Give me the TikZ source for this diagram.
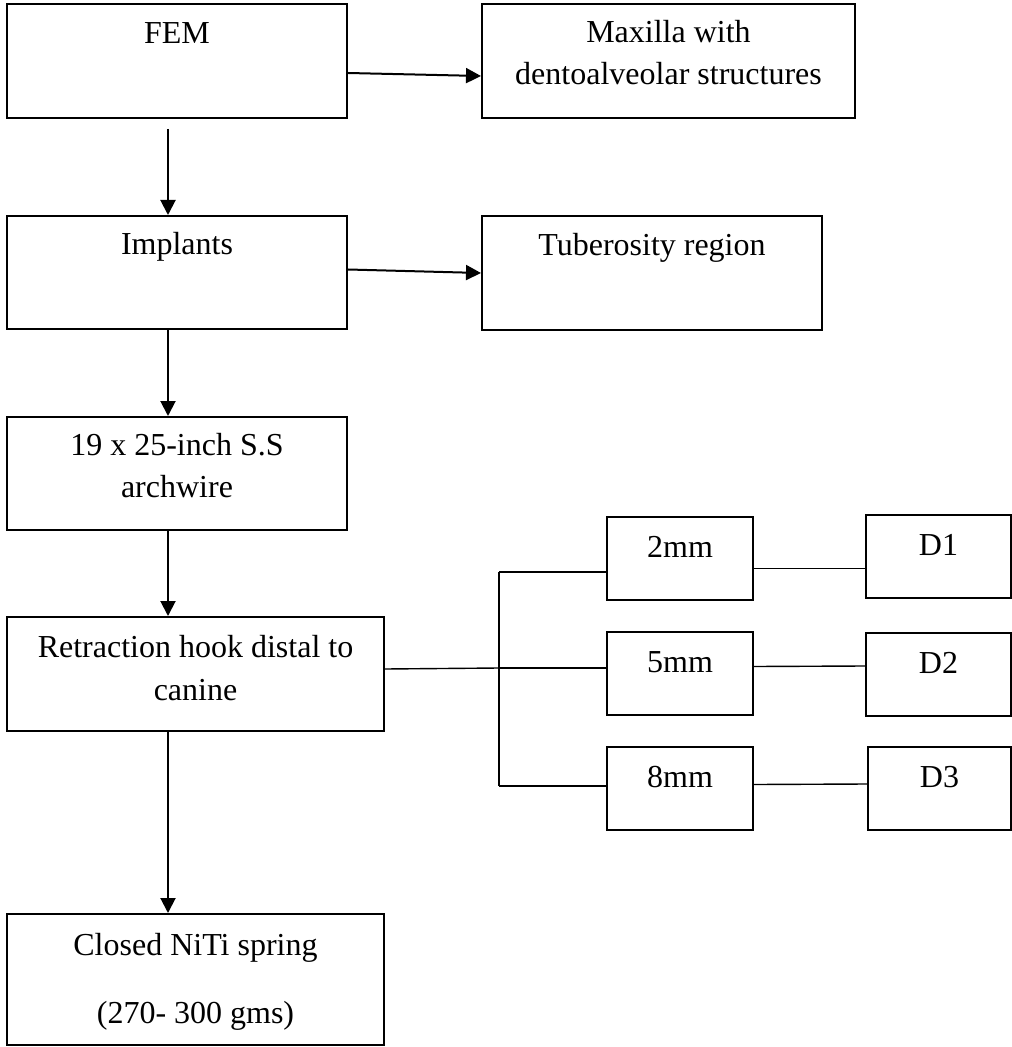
\documentclass[tikz,border=0pt]{standalone}
\usepackage{fontspec}
\setmainfont{Liberation Serif}
\usetikzlibrary{arrows.meta, positioning, calc}

\begin{document}
\begin{tikzpicture}[
				x=0.5pt, y=-0.5pt,
				stage/.style={
					rectangle, draw, line width=1pt,
					anchor=north west, inner sep=0pt
				},
				flowbox/.style={
					stage, minimum width=170pt, minimum height=57pt
				},
				smallbox/.style={
					stage, minimum width=73pt, minimum height=41.5pt
				},
				boxtext/.style={
					anchor=base, align=center, inner sep=0pt,
					font=\fontsize{16}{21}\selectfont
				},
				arrow/.style={-{Triangle[length=7.5pt,width=7.5pt]}, line width=1pt, black},
				link/.style={line width=0.7pt, black}
				]
				
				\useasboundingbox (0,0) rectangle (1011,1047);
				
				% FEM
				\node[flowbox] (fem) at (6,3) {};
				\node[boxtext] (femtext) at ($(fem.north)+(0,41)$) {FEM};
				
				% maxilla (base = last line)
				\node[flowbox, minimum width=186.5pt] (maxilla) at (481,3) {};
				\node[boxtext] (maxillatext) at ($(maxilla.north)+(0,82)$) {Maxilla with\\dentoalveolar structures};
				
				% implants
				\node[flowbox, minimum height=56.5pt] (implants) at (6,215) {};
				\node[boxtext] (implantstext) at ($(implants.north)+(0,40)$) {Implants};
				
				% tuberosity
				\node[flowbox] (tuberosity) at (481,215) {};
				\node[boxtext] (tuberositytext) at ($(tuberosity.north)+(0,41)$) {Tuberosity region};
				
				% archwire
				\node[flowbox, minimum height=56.5pt] (archwire) at (6,416) {};
				\node[boxtext] (archwiretext) at ($(archwire.north)+(0,81)$) {19 x 25-inch S.S\\archwire};
				
				% retraction hook
				\node[flowbox, minimum width=188.5pt] (hook) at (6,616) {};
				\node[boxtext] (hooktext) at ($(hook.north)+(0,84)$) {Retraction hook distal to\\[0.5pt]canine};
				
				% closed spring
				\node[flowbox, minimum width=188.5pt, minimum height=65.5pt] (spring) at (6,913) {};
				\node[boxtext] (springtext) at ($(spring.north)+(0,110)$) {Closed NiTi spring\\[13pt](270- 300 gms)};
				
				% distances
				\node[smallbox] (mm2) at (606,516) {};
				\node[boxtext] (mm2text) at ($(mm2.north)+(0,41)$) {2mm};
				\node[smallbox] (mm5) at (606,631) {};
				\node[boxtext] (mm5text) at ($(mm5.north)+(0,41)$) {5mm};
				\node[smallbox] (mm8) at (606,746) {};
				\node[boxtext] (mm8text) at ($(mm8.north)+(0,41)$) {8mm};
				
				% D1 - D3
				\node[smallbox, minimum width=72.5pt] (d1) at (865,514) {};
				\node[boxtext] (d1text) at ($(d1.north)+(0,41)$) {D1};
				\node[smallbox, minimum width=72.5pt] (d2) at (865,632) {};
				\node[boxtext] (d2text) at ($(d2.north)+(0,41)$) {D2};
				\node[smallbox, minimum width=71.5pt] (d3) at (867,746) {};
				\node[boxtext] (d3text) at ($(d3.north)+(0,41)$) {D3};
				
				% side arrows
				\draw[arrow] ($(fem.east)+(0,12)$) -- ($(maxilla.west)+(0,15)$);
				\draw[arrow] ($(implants.east)+(0,-3)$) -- (tuberosity.west);
				
				% down arrows
				\draw[arrow] ($(fem.south)+(-9,10)$) -- ($(implants.north)+(-9,0)$);
				\draw[arrow] ($(implants.south)+(-9,0)$) -- ($(archwire.north)+(-9,0)$);
				\draw[arrow] ($(archwire.south)+(-9,0)$) -- ($(hook.north)+(-27.5,0)$);
				\draw[arrow] ($(hook.south)+(-27.5,0)$) -- ($(spring.north)+(-27.5,0)$);
				
				% branches
				\coordinate (bus) at (499,668);
				\coordinate (bustop) at (499,572);
				\coordinate (busbottom) at (499,786);
				\draw[link] ($(hook.east)+(0,-5)$) -- (bus);
				\draw[link] (bustop) -- (busbottom);
				\draw[link] (bustop) -- (bustop -| mm2.west);
				\draw[link] (bus) -- (bus -| mm5.west);
				\draw[link] (busbottom) -- (busbottom -| mm8.west);
				\draw[link] ($(mm2.east)+(0,10)$) -- ($(d1.west)+(0,12)$);
				\draw[link] ($(mm5.east)+(0,-7)$) -- ($(d2.west)+(0,-8.5)$);
				\draw[link] ($(mm8.east)+(0,-4)$) -- ($(d3.west)+(0,-4.5)$);
			\end{tikzpicture}
\end{document}
